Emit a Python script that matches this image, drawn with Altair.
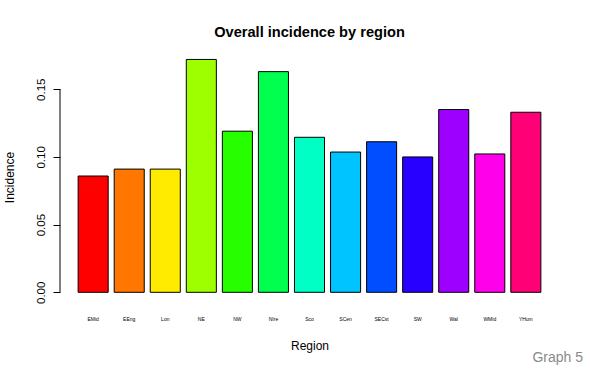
import altair as alt
import pandas as pd

regions = ["EMid", "EEng", "Lon", "NE", "NW", "NIre", "Sco", "SCen",
           "SECst", "SW", "Wal", "WMid", "YHum"]
incidence = [0.0859, 0.0910, 0.0910, 0.1720, 0.1190, 0.1630, 0.1145,
             0.1036, 0.1112, 0.1000, 0.1350, 0.1022, 0.1330]
colors = ["#FF0000", "#FF7600", "#FFEB00", "#9DFF00", "#27FF00", "#00FF4E",
          "#00FFC4", "#00C4FF", "#004EFF", "#2700FF", "#9D00FF", "#FF00EB",
          "#FF0076"]
y_ticks = [0.0, 0.05, 0.10, 0.15]

df = pd.DataFrame({"Region": regions, "Incidence": incidence, "zero": 0.0})

FONT = "Liberation Sans"

x_enc = alt.X(
    "Region:N", sort=regions, title="Region",
    scale=alt.Scale(paddingInner=0.1667, paddingOuter=0.17),
    axis=alt.Axis(domain=False, ticks=False, labelAngle=0, labelFontSize=5,
                  labelPadding=14, labelColor="#000", titleFontSize=12,
                  titleFontWeight="normal", titlePadding=19, titleColor="#000",
                  labelFont=FONT, titleFont=FONT),
)
y_scale = alt.Scale(domain=[-0.00716, 0.1775], nice=False, zero=False)

bars = alt.Chart(df).mark_bar(stroke="#000", strokeWidth=1).encode(
    x=x_enc,
    y=alt.Y("Incidence:Q", scale=y_scale, title="Incidence",
            axis=alt.Axis(values=y_ticks, format=".2f", domain=False,
                          grid=False, offset=12, tickSize=7, tickColor="#000",
                          labelAngle=270, labelAlign="center",
                          labelBaseline="bottom", labelPadding=7,
                          labelFontSize=11.5, labelColor="#000",
                          titleFontSize=12, titleFontWeight="normal",
                          titleColor="#000", titlePadding=19,
                          labelFont=FONT, titleFont=FONT)),
    y2="zero:Q",
    color=alt.Color("Region:N", sort=regions,
                    scale=alt.Scale(domain=regions, range=colors), legend=None),
)

# detached y axis line spanning only the tick range
axis_line = alt.Chart(pd.DataFrame({"lo": [y_ticks[0]], "hi": [y_ticks[-1]]})).mark_rule(
    color="#000", strokeWidth=1
).encode(
    x=alt.value(-12),
    y=alt.Y("lo:Q", scale=y_scale),
    y2="hi:Q",
)

caption = alt.Chart(pd.DataFrame({"t": ["Graph 5"]})).mark_text(
    align="right", baseline="middle", fontSize=14, color="#8a8a8a", font=FONT
).encode(x=alt.value(511), y=alt.value(306), text="t:N")

chart = alt.layer(bars, axis_line, caption).properties(
    width=475, height=250,
    background="white",
    title=alt.TitleParams("Overall incidence by region", fontSize=14.6,
                          font=FONT, fontWeight="bold", color="#000",
                          anchor="middle", offset=12),
    autosize=alt.AutoSizeParams(type="none"),
    padding={"left": 72, "top": 52, "right": 43, "bottom": 67},
).configure_view(strokeWidth=0, stroke="transparent")

chart.save("out.html", embed_options={"renderer": "svg", "actions": False})
